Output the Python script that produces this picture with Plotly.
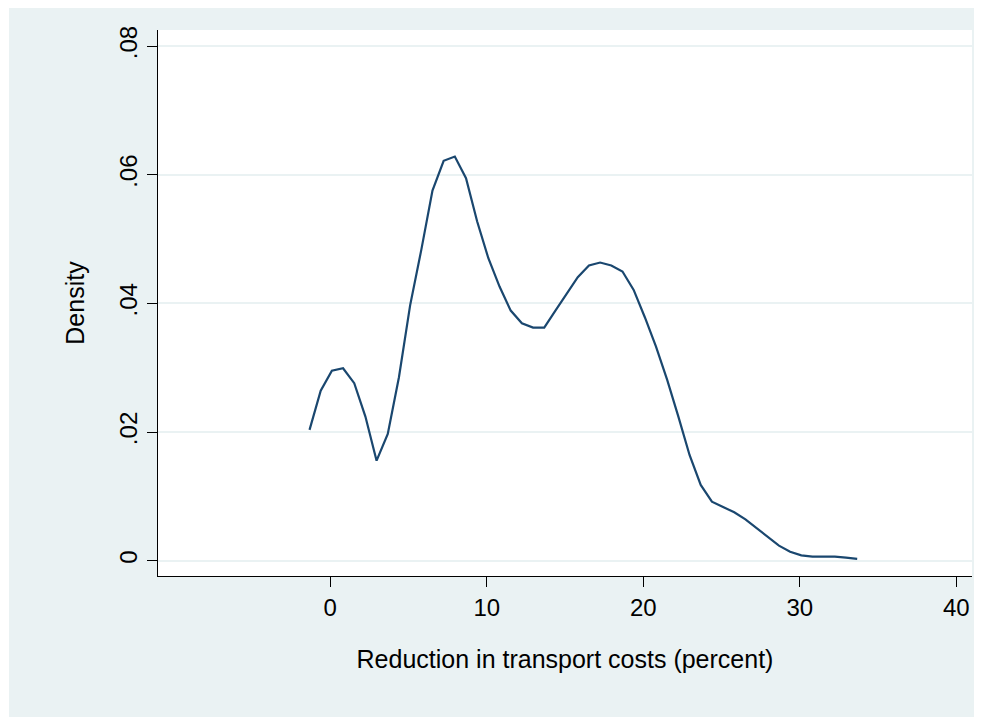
import plotly.graph_objects as go

# Kernel density estimate evaluated at 50 evenly spaced points
x_start = -1.32
x_step = 0.714
density = [
    0.02033, 0.02644, 0.02955, 0.02992, 0.02759, 0.02240, 0.01555, 0.01970, 0.02852, 0.03970,
    0.04832, 0.05755, 0.06216, 0.06283, 0.05947, 0.05273, 0.04702, 0.04262, 0.03888, 0.03691,
    0.03624, 0.03624, 0.03888, 0.04148, 0.04407, 0.04588, 0.04635, 0.04588, 0.04495, 0.04210,
    0.03785, 0.03328, 0.02810, 0.02240, 0.01644, 0.01177, 0.00918, 0.00835, 0.00752, 0.00643,
    0.00503, 0.00363, 0.00234, 0.00140, 0.00083, 0.00062, 0.00062, 0.00062, 0.00047, 0.00027,
]
x_vals = [x_start + i * x_step for i in range(len(density))]

x_ticks = [0, 10, 20, 30, 40]
y_ticks = [0, 0.02, 0.04, 0.06, 0.08]
y_ticktext = ["0", ".02", ".04", ".06", ".08"]

x_title = "Reduction in transport costs (percent)"
y_title = "Density"

bg = "#EAF2F3"
line_col = "#1A476F"
font_family = "Liberation Sans, Arial, sans-serif"

fig = go.Figure()
fig.add_trace(go.Scatter(x=x_vals, y=density, mode="lines",
                         line=dict(color=line_col, width=2.2),
                         hoverinfo="skip", showlegend=False))

# page body adds an 8px offset; figure coordinates = screen - 8
W, H = 978, 713
L, R, T, B = 150, 14, 22, 145
pw, ph = W - L - R, H - T - B

def px(xp):
    return (xp - L) / pw

def py(yp):
    return (H - B - yp) / ph

shapes = []
for (x0, y0, x1, y1) in [(1, 0, L, 709), (L, 0, 966, T), (L, H - B, 966, 709), (W - R, 0, 966, 709)]:
    shapes.append(dict(type="rect", xref="paper", yref="paper",
                       x0=px(x0), x1=px(x1), y0=py(y1), y1=py(y0),
                       fillcolor=bg, line=dict(width=0), layer="below"))

fig.update_layout(
    width=W, height=H,
    margin=dict(l=L, r=R, t=T, b=B),
    paper_bgcolor="white",
    plot_bgcolor="white",
    font=dict(family=font_family, size=24, color="black"),
    shapes=shapes,
    xaxis=dict(
        range=[-11, 41], tickvals=x_ticks, ticks="outside", ticklen=10,
        tickwidth=1.3, tickcolor="black", showline=True, linecolor="black",
        linewidth=1.3, showgrid=False, zeroline=False,
        title=dict(text=x_title, standoff=30, font=dict(size=25)),
        tickfont=dict(size=24),
    ),
    yaxis=dict(
        range=[-0.00238, 0.0825], tickvals=y_ticks, ticktext=y_ticktext,
        ticks="outside", ticklen=10, tickwidth=1.3, tickcolor="black",
        tickangle=-90, showline=True, linecolor="black", linewidth=1.3,
        showgrid=True, gridcolor=bg, gridwidth=2, zeroline=False,
        title=dict(text=y_title, standoff=23, font=dict(size=25)),
        tickfont=dict(size=24),
    ),
)

fig.write_html("out.html")
